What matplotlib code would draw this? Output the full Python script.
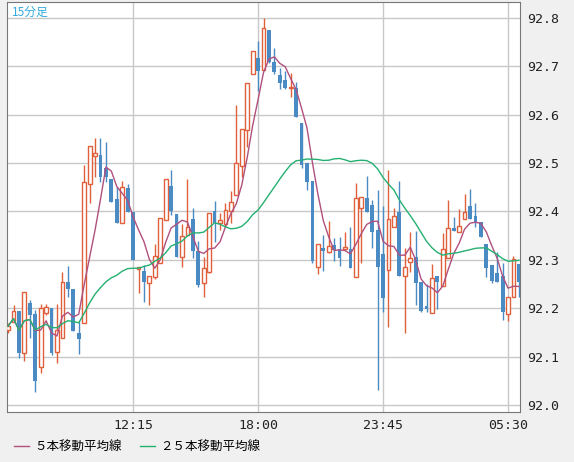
import matplotlib
matplotlib.use("Agg")
import matplotlib.pyplot as plt
import numpy as np
import pandas as pd
from matplotlib.lines import Line2D

plt.rcParams['font.family'] = ['Noto Sans CJK JP', 'DejaVu Sans']

# 15分足 OHLC
opens = [92.155, 92.171, 92.194, 92.107, 92.211, 92.188, 92.078, 92.190, 92.200, 92.109,
         92.138, 92.254, 92.240, 92.149, 92.169, 92.457, 92.515, 92.517, 92.490, 92.467,
         92.426, 92.376, 92.448, 92.399, 92.281, 92.277, 92.252, 92.264, 92.293, 92.382,
         92.453, 92.395, 92.306, 92.351, 92.384, 92.318, 92.252, 92.275, 92.401, 92.376,
         92.374, 92.401, 92.434, 92.494, 92.568, 92.684, 92.717, 92.692, 92.775, 92.709,
         92.682, 92.672, 92.655, 92.655, 92.583, 92.500, 92.463, 92.285, 92.324, 92.316,
         92.331, 92.322, 92.322, 92.322, 92.264, 92.407, 92.428, 92.413, 92.362, 92.312,
         92.279, 92.368, 92.399, 92.267, 92.295, 92.306, 92.254, 92.204, 92.190, 92.267,
         92.246, 92.304, 92.366, 92.357, 92.384, 92.411, 92.390, 92.378, 92.333, 92.289,
         92.273, 92.267, 92.188, 92.223, 92.291]
highs = [92.169, 92.207, 92.194, 92.233, 92.217, 92.196, 92.209, 92.209, 92.200, 92.209,
         92.275, 92.287, 92.240, 92.174, 92.496, 92.535, 92.552, 92.552, 92.543, 92.467,
         92.451, 92.463, 92.457, 92.399, 92.285, 92.289, 92.267, 92.333, 92.386, 92.467,
         92.486, 92.395, 92.374, 92.467, 92.407, 92.339, 92.306, 92.397, 92.422, 92.397,
         92.417, 92.442, 92.620, 92.570, 92.665, 92.732, 92.752, 92.800, 92.775, 92.738,
         92.696, 92.690, 92.686, 92.668, 92.583, 92.500, 92.463, 92.333, 92.351, 92.380,
         92.345, 92.347, 92.357, 92.368, 92.459, 92.430, 92.473, 92.424, 92.444, 92.411,
         92.486, 92.407, 92.463, 92.324, 92.357, 92.359, 92.254, 92.250, 92.291, 92.267,
         92.355, 92.424, 92.388, 92.405, 92.436, 92.446, 92.417, 92.378, 92.333, 92.289,
         92.316, 92.293, 92.223, 92.308, 92.291]
lows = [92.149, 92.171, 92.097, 92.091, 92.138, 92.027, 92.066, 92.186, 92.103, 92.087,
        92.138, 92.223, 92.153, 92.105, 92.169, 92.417, 92.471, 92.461, 92.461, 92.419,
        92.376, 92.376, 92.399, 92.300, 92.231, 92.213, 92.207, 92.260, 92.293, 92.382,
        92.393, 92.306, 92.285, 92.351, 92.304, 92.244, 92.223, 92.273, 92.337, 92.362,
        92.368, 92.376, 92.434, 92.471, 92.533, 92.684, 92.649, 92.692, 92.707, 92.684,
        92.653, 92.653, 92.637, 92.595, 92.490, 92.444, 92.293, 92.271, 92.277, 92.314,
        92.298, 92.287, 92.322, 92.283, 92.264, 92.293, 92.399, 92.324, 92.031, 92.192,
        92.161, 92.368, 92.267, 92.149, 92.275, 92.207, 92.192, 92.192, 92.190, 92.198,
        92.246, 92.304, 92.360, 92.357, 92.384, 92.384, 92.368, 92.347, 92.264, 92.252,
        92.254, 92.176, 92.174, 92.223, 92.223]
closes = [92.163, 92.194, 92.107, 92.233, 92.186, 92.049, 92.200, 92.202, 92.107, 92.155,
          92.254, 92.240, 92.153, 92.136, 92.461, 92.535, 92.521, 92.471, 92.471, 92.419,
          92.376, 92.451, 92.399, 92.300, 92.285, 92.254, 92.267, 92.308, 92.386, 92.467,
          92.401, 92.306, 92.349, 92.368, 92.318, 92.248, 92.283, 92.397, 92.376, 92.382,
          92.403, 92.419, 92.500, 92.570, 92.665, 92.732, 92.690, 92.779, 92.709, 92.688,
          92.665, 92.655, 92.657, 92.595, 92.496, 92.461, 92.298, 92.333, 92.318, 92.328,
          92.320, 92.304, 92.326, 92.283, 92.428, 92.430, 92.399, 92.357, 92.285, 92.221,
          92.384, 92.391, 92.267, 92.285, 92.304, 92.252, 92.194, 92.198, 92.262, 92.254,
          92.322, 92.366, 92.360, 92.370, 92.399, 92.384, 92.376, 92.347, 92.283, 92.256,
          92.254, 92.192, 92.223, 92.302, 92.254]
time_ticks = {23: "12:15", 46: "18:00", 69: "23:45", 92: "05:30"}

UP = '#e0603c'
DOWN = '#4b8bc4'

df = pd.DataFrame({'o': opens, 'h': highs, 'l': lows, 'c': closes})
x = np.arange(len(df))
ma5 = df['c'].rolling(5, min_periods=1).mean()
ma25 = df['c'].rolling(25, min_periods=1).mean()

fig = plt.figure(figsize=(5.74, 4.62), dpi=100, facecolor='#f0f0f0')
ax = fig.add_axes([7/574, 50/462, 513/574, 410/462], facecolor='white')

ax.grid(True, color='#c8c8c8', linewidth=1)
ax.set_axisbelow(True)

up = df['c'] >= df['o']
ax.vlines(x[up], df['l'][up], df['h'][up], color=UP, linewidth=1, zorder=2)
ax.vlines(x[~up], df['l'][~up], df['h'][~up], color=DOWN, linewidth=1, zorder=2)
ax.bar(x[up], (df['c'] - df['o'])[up].clip(lower=0.002), bottom=df['o'][up], width=0.7,
       facecolor='white', edgecolor=UP, linewidth=1, zorder=3)
ax.bar(x[~up], (df['o'] - df['c'])[~up], bottom=df['c'][~up], width=0.7,
       color=DOWN, linewidth=0, zorder=3)

ax.plot(x, ma5, color='#b0507e', linewidth=1, zorder=4)
ax.plot(x, ma25, color='#24b070', linewidth=1, zorder=4)

ax.set_xlim(-0.2, 94.2)
ax.set_ylim(91.9855, 92.833)
ax.set_yticks(np.arange(92.0, 92.81, 0.1))
ax.set_yticklabels([f"{v:.1f}" for v in np.arange(92.0, 92.81, 0.1)])
ax.set_xticks(list(time_ticks.keys()))
ax.set_xticklabels(list(time_ticks.values()))
ax.yaxis.tick_right()
ax.tick_params(length=0, labelsize=9.5, colors='#222222', pad=5)
for lab in ax.get_xticklabels() + ax.get_yticklabels():
    lab.set_family('DejaVu Sans Mono')
for s in ax.spines.values():
    s.set_color('#777777')

ax.text(0.01, 0.99, "15分足", transform=ax.transAxes, ha='left', va='top',
        color='#33aadd', fontsize=8.5)

handles = [Line2D([], [], color='#b0507e', lw=1), Line2D([], [], color='#24b070', lw=1)]
fig.legend(handles, ["５本移動平均線", "２５本移動平均線"], loc='center left',
           bbox_to_anchor=(0.005, 447/462 * 0 + 15/462), ncol=2, frameon=False,
           fontsize=9, handlelength=1.2, handletextpad=0.4, columnspacing=1.5)

fig.savefig("out.png", dpi=100, facecolor=fig.get_facecolor())
